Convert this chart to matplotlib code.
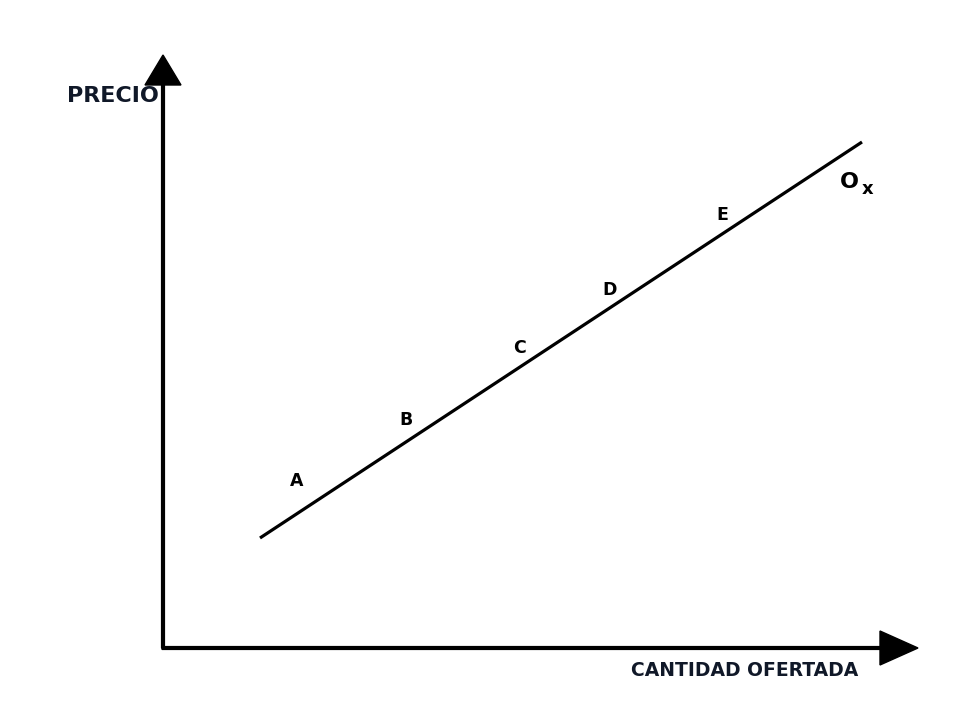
import matplotlib
matplotlib.use("Agg")
import matplotlib.pyplot as plt

# supply curve (quantity, price) in chart units
supply_q = [98, 700]
supply_p = [110, 506]

# point labels along the curve
point_names = ["A", "B", "C", "D", "E"]
point_q = [135, 244, 358, 448, 560]
point_p = [167, 228, 300, 358, 433]

x_label = "CANTIDAD OFERTADA"
y_label = "PRECIO"
curve_name = "O"
curve_sub = "x"

fig = plt.figure(figsize=(9.6, 7.2), dpi=100)
ax = fig.add_axes([0, 0, 1, 1])
ax.set_xlim(-162, 798)
ax.set_ylim(-72, 648)
ax.axis("off")

# axes with arrow heads
ax.arrow(1, 0, 0, 593, width=2.8, head_width=36, head_length=30,
         length_includes_head=True, color="black")
ax.arrow(0, 0, 756, 0, width=2.8, head_width=34, head_length=38,
         length_includes_head=True, color="black")

ax.plot(supply_q, supply_p, color="black", lw=2.3, solid_capstyle="butt")

for name, q, p in zip(point_names, point_q, point_p):
    ax.text(q, p, name, fontsize=12.5, fontweight="bold", ha="center", va="center")

ax.text(-3, 552, y_label, fontsize=16, fontweight="bold", ha="right", va="center",
        color="#101828")
ax.text(583, -22, x_label, fontsize=13.5, fontweight="bold", ha="center", va="center",
        color="#101828")
ax.text(687, 466, curve_name, fontsize=16, fontweight="bold", ha="center", va="center")
ax.text(706, 459, curve_sub, fontsize=13, fontweight="bold", ha="center", va="center")

fig.savefig("out.png", dpi=100)
